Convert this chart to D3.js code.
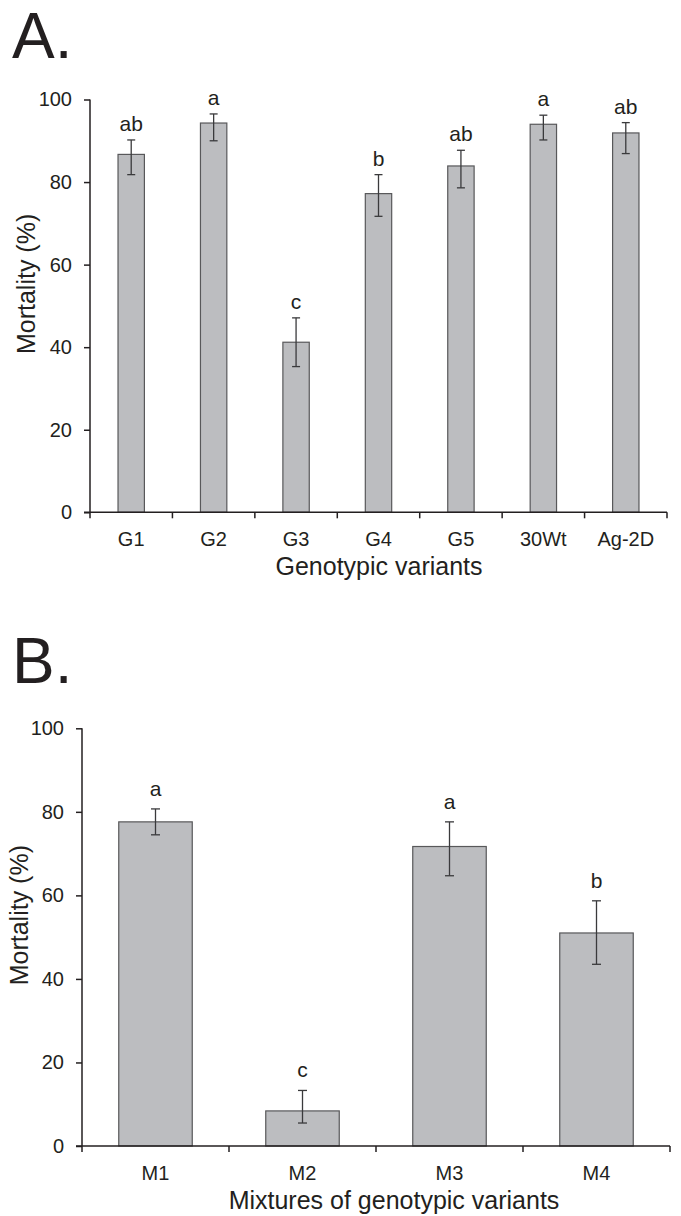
<!DOCTYPE html>
<html>
<head>
<meta charset="utf-8">
<script src="https://cdn.jsdelivr.net/npm/d3@7"></script>
<style>
  body { margin: 0; background: #fff; }
  text { font-family: "Liberation Sans", Arial, sans-serif; fill: #231f20; }
</style>
</head>
<body>
<div id="chart"></div>
<script>
// Panel A data
var genotypes = ["G1", "G2", "G3", "G4", "G5", "30Wt", "Ag-2D"];
var genoMean = [86.7, 94.3, 41.2, 77.2, 83.9, 94.0, 91.9];
var genoUpper = [90.2, 96.5, 47.1, 81.8, 87.7, 96.2, 94.4];
var genoLower = [81.8, 90.0, 35.3, 71.7, 78.6, 90.2, 86.9];
var genoLetters = ["ab", "a", "c", "b", "ab", "a", "ab"];

// Panel B data
var mixtures = ["M1", "M2", "M3", "M4"];
var mixMean = [77.6, 8.4, 71.7, 51.0];
var mixUpper = [80.7, 13.3, 77.6, 58.7];
var mixLower = [74.5, 5.5, 64.7, 43.5];
var mixLetters = ["a", "c", "a", "b"];

var yTicks = [0, 20, 40, 60, 80, 100];

var svg = d3.select("#chart")
  .append("svg")
  .attr("width", 681)
  .attr("height", 1216);

function drawPanel(opt) {
  var data = opt.cats.map(function(c, i) {
    return { cat: c, mean: opt.mean[i], up: opt.upper[i], lo: opt.lower[i], letter: opt.letters[i] };
  });

  var x = d3.scaleBand()
    .domain(opt.cats)
    .range([opt.left, opt.right])
    .paddingInner(opt.pad)
    .paddingOuter(opt.pad / 2);

  var y = d3.scaleLinear()
    .domain([0, 100])
    .range([opt.bottom, opt.top]);

  var g = svg.append("g");

  // panel letter
  g.append("text")
    .attr("x", 12)
    .attr("y", opt.letterY)
    .attr("font-size", "64px")
    .text(opt.label);

  // bars
  g.selectAll(".bar")
    .data(data)
    .enter()
    .append("rect")
    .attr("x", d => x(d.cat))
    .attr("y", d => y(d.mean))
    .attr("width", x.bandwidth())
    .attr("height", d => y(0) - y(d.mean))
    .attr("fill", "#bcbdc0")
    .attr("stroke", "#58585a")
    .attr("stroke-width", 1.2);

  // error bars
  var cap = opt.cap;
  var eb = g.selectAll(".err")
    .data(data)
    .enter()
    .append("g")
    .attr("stroke", "#3a3a3c")
    .attr("stroke-width", 1.3);
  eb.append("line")
    .attr("x1", d => x(d.cat) + x.bandwidth() / 2)
    .attr("x2", d => x(d.cat) + x.bandwidth() / 2)
    .attr("y1", d => y(d.up))
    .attr("y2", d => y(d.lo));
  eb.append("line")
    .attr("x1", d => x(d.cat) + x.bandwidth() / 2 - cap)
    .attr("x2", d => x(d.cat) + x.bandwidth() / 2 + cap)
    .attr("y1", d => y(d.up))
    .attr("y2", d => y(d.up));
  eb.append("line")
    .attr("x1", d => x(d.cat) + x.bandwidth() / 2 - cap)
    .attr("x2", d => x(d.cat) + x.bandwidth() / 2 + cap)
    .attr("y1", d => y(d.lo))
    .attr("y2", d => y(d.lo));

  // significance letters
  g.selectAll(".sig")
    .data(data)
    .enter()
    .append("text")
    .attr("x", d => x(d.cat) + x.bandwidth() / 2)
    .attr("y", d => y(d.up) - opt.letterGap)
    .attr("text-anchor", "middle")
    .attr("font-size", "21px")
    .text(d => d.letter);

  // y axis
  var yAxis = g.append("g")
    .attr("transform", `translate(${opt.left}, 0)`)
    .call(d3.axisLeft(y).tickValues(yTicks).tickSize(6).tickPadding(12));
  yAxis.select(".domain").attr("stroke", "#231f20").attr("stroke-width", 1.5).attr("d", `M0,${opt.bottom}V${opt.top}`);
  yAxis.selectAll(".tick line").attr("stroke", "#231f20").attr("stroke-width", 1.5);
  yAxis.selectAll(".tick text").attr("font-size", "20px").attr("fill", "#231f20");

  // x axis, ticks at the band boundaries
  var xAxisG = g.append("g")
    .attr("transform", `translate(0, ${opt.bottom})`);
  xAxisG.append("line")
    .attr("x1", opt.left - 6)
    .attr("x2", opt.right)
    .attr("stroke", "#231f20")
    .attr("stroke-width", 1.5);
  var bounds = d3.range(opt.cats.length + 1).map(i => opt.left + i * (opt.right - opt.left) / opt.cats.length);
  xAxisG.selectAll(".xt")
    .data(bounds)
    .enter()
    .append("line")
    .attr("x1", d => d)
    .attr("x2", d => d)
    .attr("y1", 0)
    .attr("y2", 6)
    .attr("stroke", "#231f20")
    .attr("stroke-width", 1.5);
  xAxisG.selectAll(".xl")
    .data(opt.cats)
    .enter()
    .append("text")
    .attr("x", d => x(d) + x.bandwidth() / 2)
    .attr("y", 34)
    .attr("text-anchor", "middle")
    .attr("font-size", "20px")
    .text(d => d);

  // axis titles
  g.append("text")
    .attr("x", opt.xTitleX)
    .attr("y", opt.bottom + 63)
    .attr("text-anchor", "middle")
    .attr("font-size", "25px")
    .text(opt.xTitle);

  g.append("text")
    .attr("transform", `translate(${opt.yTitleX}, ${(opt.top + opt.bottom) / 2 - 22}) rotate(-90)`)
    .attr("text-anchor", "middle")
    .attr("font-size", "25px")
    .text("Mortality (%)");
}

drawPanel({
  label: "A.", letterY: 58,
  cats: genotypes, mean: genoMean, upper: genoUpper, lower: genoLower, letters: genoLetters,
  left: 90, right: 667, top: 99.5, bottom: 512.3,
  pad: 0.68, cap: 4, letterGap: 9,
  xTitle: "Genotypic variants", xTitleX: 379, yTitleX: 35
});

drawPanel({
  label: "B.", letterY: 683,
  cats: mixtures, mean: mixMean, upper: mixUpper, lower: mixLower, letters: mixLetters,
  left: 82, right: 670, top: 728.3, bottom: 1146,
  pad: 0.5, cap: 4.5, letterGap: 13,
  xTitle: "Mixtures of genotypic variants", xTitleX: 394, yTitleX: 28
});
</script>
</body>
</html>
